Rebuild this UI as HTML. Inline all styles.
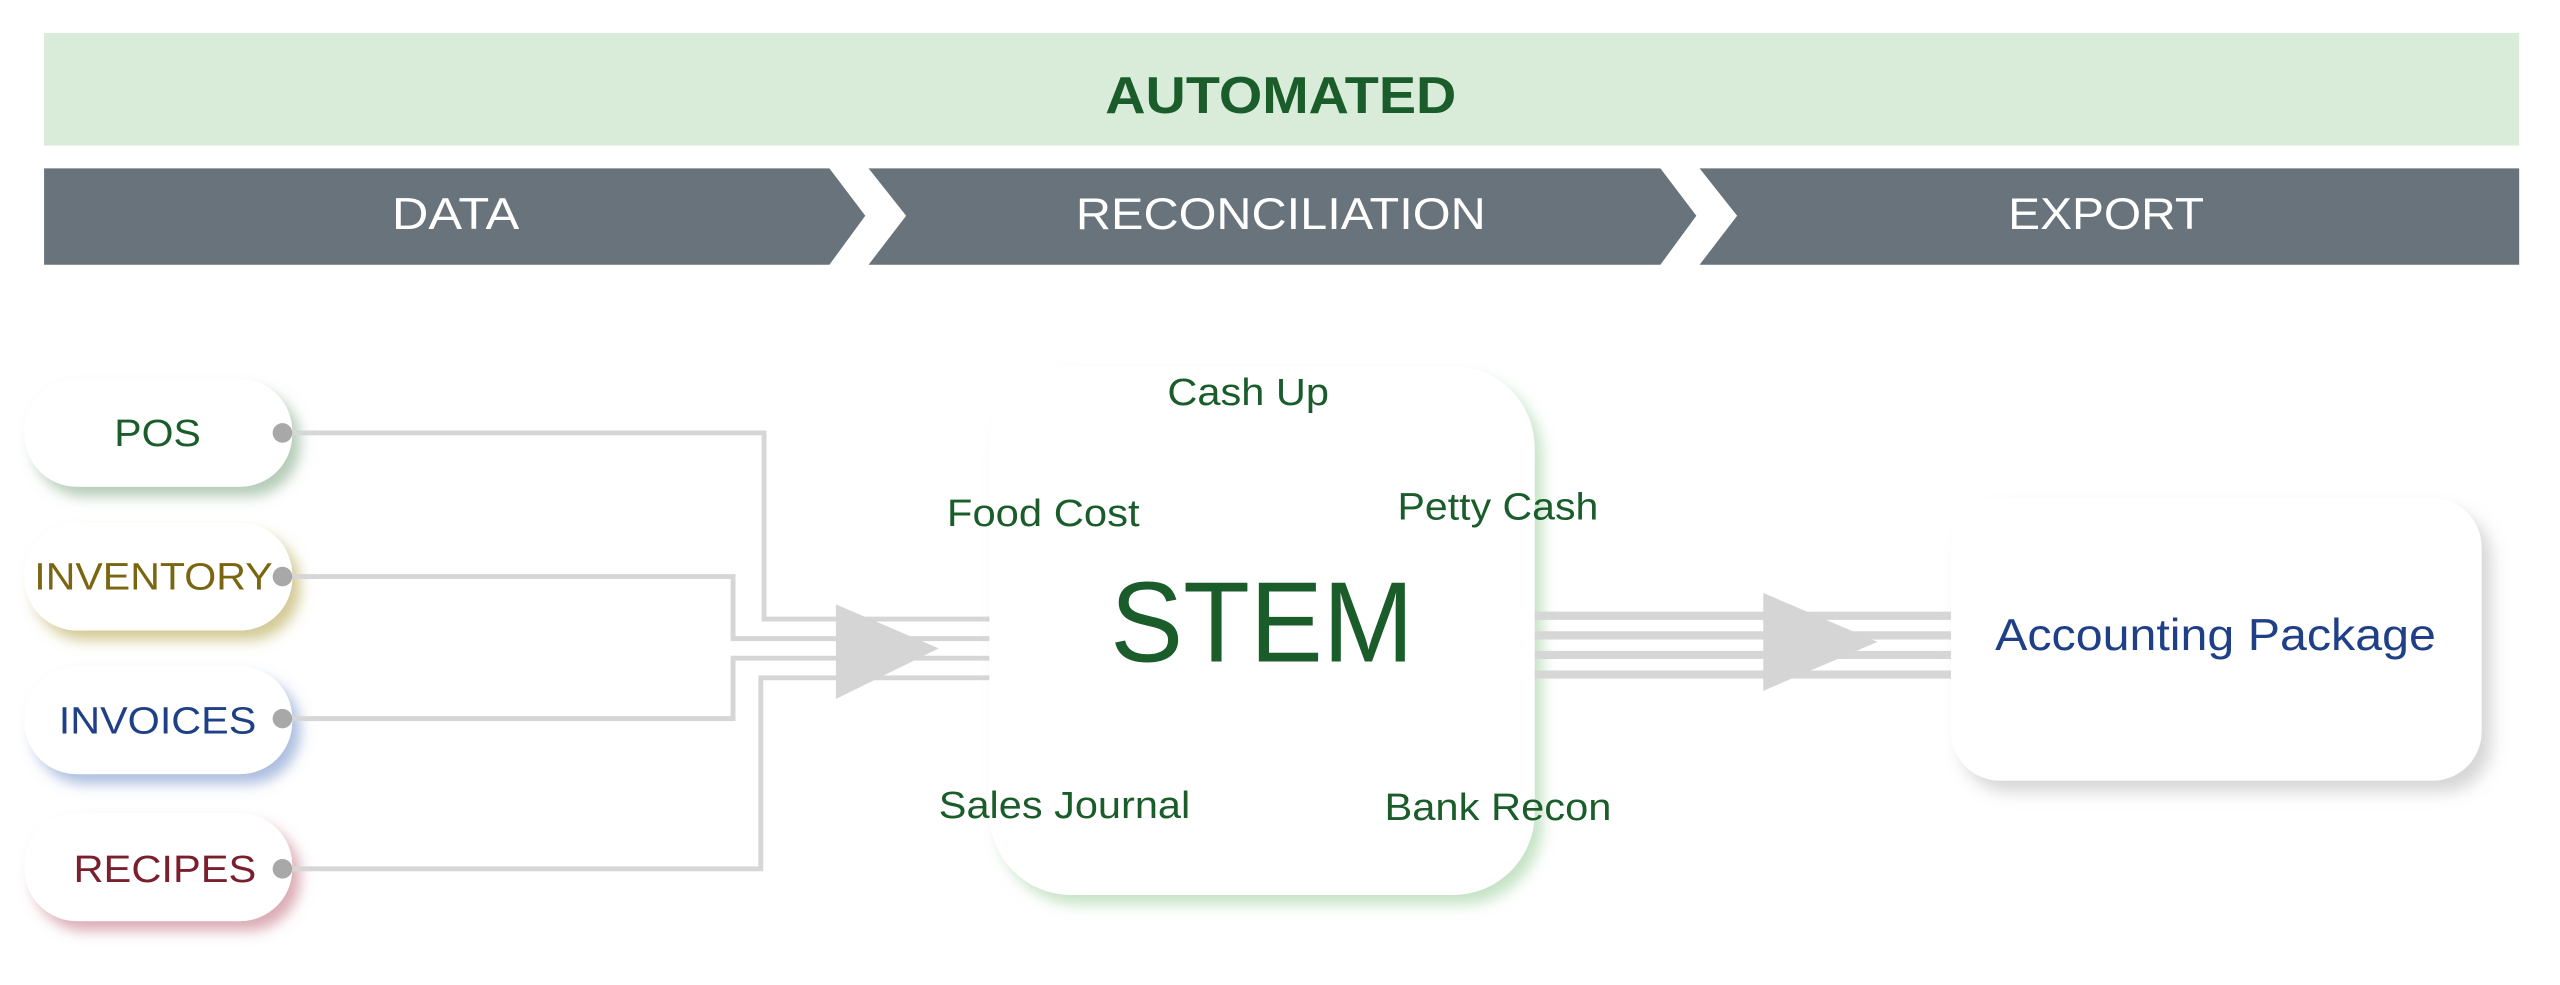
<!DOCTYPE html>
<html><head><meta charset="utf-8"><style>
html,body{margin:0;padding:0;background:#fff;width:2560px;height:985px;overflow:hidden}
svg{display:block}
text{font-family:"Liberation Sans",Arial,sans-serif}
</style></head><body>
<svg width="2560" height="985" viewBox="0 0 1568 603" xmlns="http://www.w3.org/2000/svg">
<defs>
<filter id="sg" x="-30%" y="-30%" width="160%" height="170%"><feDropShadow dx="5" dy="6" stdDeviation="4" flood-color="#6a9a70" flood-opacity="0.5"/></filter>
<filter id="so" x="-30%" y="-30%" width="160%" height="170%"><feDropShadow dx="5" dy="6" stdDeviation="4" flood-color="#a8962a" flood-opacity="0.5"/></filter>
<filter id="sb" x="-30%" y="-30%" width="160%" height="170%"><feDropShadow dx="5" dy="6" stdDeviation="4" flood-color="#5a7ec0" flood-opacity="0.5"/></filter>
<filter id="sr" x="-30%" y="-30%" width="160%" height="170%"><feDropShadow dx="5" dy="6" stdDeviation="4" flood-color="#b85a6a" flood-opacity="0.5"/></filter>
<filter id="sstem" x="-20%" y="-20%" width="140%" height="140%"><feDropShadow dx="5" dy="6" stdDeviation="4" flood-color="#8cc88c" flood-opacity="0.5"/></filter>
<filter id="sacc" x="-20%" y="-20%" width="140%" height="140%"><feDropShadow dx="6" dy="7" stdDeviation="5" flood-color="#999" flood-opacity="0.4"/></filter>
</defs>
<rect x="27" y="20" width="1516" height="69" fill="#d9ebd9"/>
<text x="677" y="69" font-size="32" font-weight="bold" fill="#1a5c2a" textLength="215" lengthAdjust="spacingAndGlyphs">AUTOMATED</text>
<polygon points="27,103 508,103 530,132 508,162 27,162" fill="#68737b"/>
<polygon points="532,103 1017,103 1039,132 1017,162 532,162 555,132" fill="#68737b"/>
<polygon points="1041,103 1543,103 1543,162 1041,162 1064,132" fill="#68737b"/>
<text x="240" y="140" font-size="27" fill="#fff" textLength="78" lengthAdjust="spacingAndGlyphs">DATA</text>
<text x="659" y="140" font-size="27" fill="#fff" textLength="251" lengthAdjust="spacingAndGlyphs">RECONCILIATION</text>
<text x="1230" y="140" font-size="27" fill="#fff" textLength="120" lengthAdjust="spacingAndGlyphs">EXPORT</text>

<rect x="15" y="232" width="164" height="66" rx="32" fill="#fff" filter="url(#sg)"/>
<rect x="15" y="320" width="164" height="66" rx="32" fill="#fff" filter="url(#so)"/>
<rect x="15" y="408" width="164" height="66" rx="32" fill="#fff" filter="url(#sb)"/>
<rect x="15" y="498" width="164" height="66" rx="32" fill="#fff" filter="url(#sr)"/>
<text x="70" y="273" font-size="23" fill="#1a5c2a" textLength="53" lengthAdjust="spacingAndGlyphs">POS</text>
<text x="21" y="361" font-size="23" fill="#7a6510" textLength="146" lengthAdjust="spacingAndGlyphs">INVENTORY</text>
<text x="36" y="449" font-size="23" fill="#1f3f87" textLength="121" lengthAdjust="spacingAndGlyphs">INVOICES</text>
<text x="45" y="540" font-size="23" fill="#7a1f2e" textLength="112" lengthAdjust="spacingAndGlyphs">RECIPES</text>

<g fill="none" stroke="#d6d6d6" stroke-width="3">
<polyline points="173,265 468,265 468,379 610,379"/>
<polyline points="173,353 449,353 449,391 610,391"/>
<polyline points="173,440 449,440 449,403 610,403"/>
<polyline points="173,532 466,532 466,415 610,415"/>
</g>
<polygon points="512,370 575,397 512,428" fill="#d5d5d5"/>
<g fill="#a8a8a8"><circle cx="173" cy="265" r="6"/><circle cx="173" cy="353" r="6"/><circle cx="173" cy="440" r="6"/><circle cx="173" cy="532" r="6"/></g>

<rect x="606" y="224" width="334" height="324" rx="50" fill="#fff" filter="url(#sstem)"/>
<rect x="1195" y="305" width="325" height="173" rx="30" fill="#fff" filter="url(#sacc)"/>

<g stroke="#d6d6d6" stroke-width="5">
<line x1="940" y1="377" x2="1195" y2="377"/>
<line x1="940" y1="389" x2="1195" y2="389"/>
<line x1="940" y1="401" x2="1195" y2="401"/>
<line x1="940" y1="413" x2="1195" y2="413"/>
</g>
<polygon points="1080,363 1150,393 1080,423" fill="#d5d5d5"/>

<text x="680" y="405" font-size="70" fill="#1a5c2a" textLength="186" lengthAdjust="spacingAndGlyphs">STEM</text>
<g font-size="23" fill="#1a5c2a">
<text x="715" y="248" textLength="99" lengthAdjust="spacingAndGlyphs">Cash Up</text>
<text x="580" y="322" textLength="118" lengthAdjust="spacingAndGlyphs">Food Cost</text>
<text x="856" y="318" textLength="123" lengthAdjust="spacingAndGlyphs">Petty Cash</text>
<text x="575" y="501" textLength="154" lengthAdjust="spacingAndGlyphs">Sales Journal</text>
<text x="848" y="502" textLength="139" lengthAdjust="spacingAndGlyphs">Bank Recon</text>
</g>
<text x="1222" y="398" font-size="27" fill="#1f3f87" textLength="270" lengthAdjust="spacingAndGlyphs">Accounting Package</text>
</svg>
</body></html>
